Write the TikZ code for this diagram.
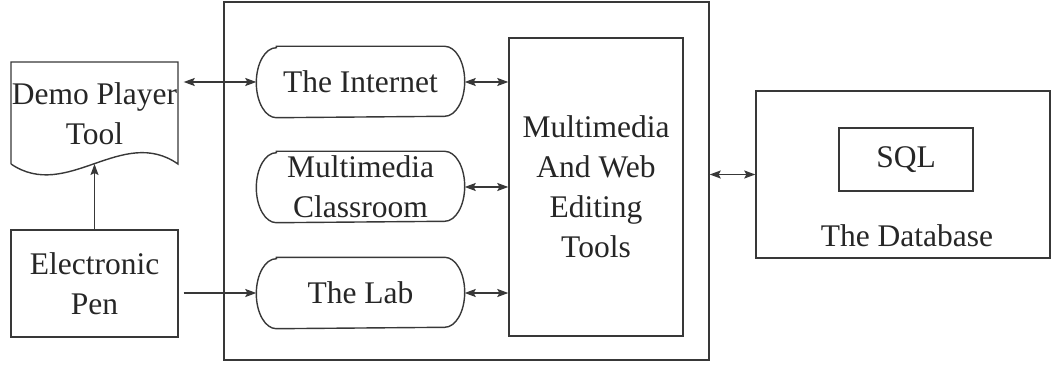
\documentclass[tikz,border=0pt]{standalone}
\usepackage{fontspec}
\setmainfont{Liberation Serif}
\usetikzlibrary{arrows.meta}
\begin{document}
\begin{tikzpicture}[x=1pt,y=1pt,
  line width=1.4pt, draw=black!78,
  every node/.style={text=black!85, font=\fontsize{31.5}{40}\selectfont, align=center, inner sep=0pt},
  box/.style={draw=black!78, line width=1.4pt, rectangle},
  plain/.style={draw=none, rectangle},
  arr/.style={-{Stealth[length=11pt,width=8pt,inset=2pt]}, draw=black!78},
  darr/.style={{Stealth[length=11pt,width=8pt,inset=2pt]}-{Stealth[length=11pt,width=8pt,inset=2pt]}, draw=black!78}]
\useasboundingbox (0,0) rectangle (1051,367);
% outer box
\node[box, minimum width=485, minimum height=358] (outer) at (466.5,186) {};
% rounded nodes
\node[plain, minimum width=207, minimum height=70] (inet) at (360.5,285) {The Internet};
\node[plain, minimum width=207, minimum height=70] (class) at (360.5,180) {Multimedia\\Classroom};
\node[plain, minimum width=207, minimum height=70] (lab) at (360.5,74) {The Lab};
\foreach \n in {inet,class,lab}{
  \draw ([xshift=20]\n.north west) -- ([xshift=-20]\n.north east)
    arc[start angle=90,end angle=-90,x radius=20,y radius=35]
    -- ([xshift=20]\n.south west)
    arc[start angle=270,end angle=90,x radius=20,y radius=35] -- cycle;
}
% editing tools
\node[box, minimum width=174, minimum height=298] (edit) at (596,180) {};
\node (edittxt) at (edit.center) {Multimedia\\And Web\\Editing\\Tools};
% database
\node[box, minimum width=294, minimum height=167] (db) at (903,192.5) {};
\node[box, minimum width=134, minimum height=63] (sql) at (906,207.5) {SQL};
\node (dbtxt) at (907,131) {The Database};
% demo player document shape
\coordinate (dtl) at (11,305);
\coordinate (dtr) at (178,305);
\coordinate (dbl) at (11,203);
\coordinate (dbr) at (178,203);
\coordinate (dpeak) at (94.5,203);
\draw (dbl) -- (dtl) -- (dtr) -- (dbr)
  .. controls (122,242) and (67,165) .. (dbl);
\node[plain, minimum width=167, minimum height=100] (demo) at (94.5,253) {Demo Player\\Tool};
% electronic pen
\node[box, minimum width=167, minimum height=107] (pen) at (94.5,83.5) {Electronic\\Pen};
% connectors
\draw[arr] (pen.north -| dpeak) -- (dpeak);
\draw[darr] ([xshift=5]demo.east |- inet.west) -- (inet.west);
\draw[arr] ([xshift=5]pen.east |- lab.west) -- (lab.west);
\draw[darr] (inet.east) -- (inet.east -| edit.west);
\draw[darr] (class.east) -- (class.east -| edit.west);
\draw[darr] (lab.east) -- (lab.east -| edit.west);
\draw[darr] (outer.east |- db.west) -- (db.west);
\end{tikzpicture}
\end{document}
